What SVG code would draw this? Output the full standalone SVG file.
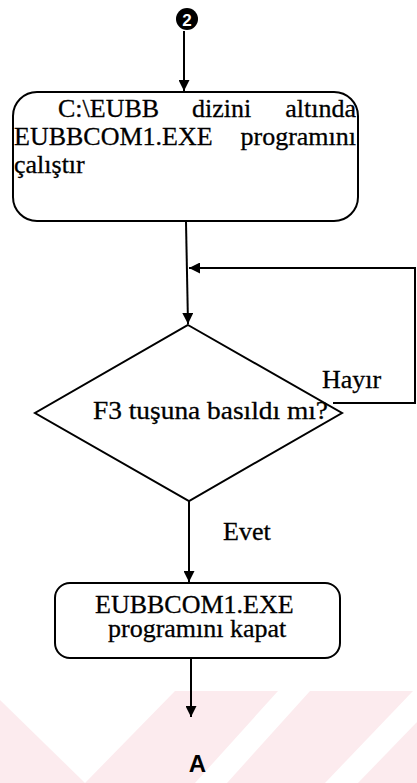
<svg xmlns="http://www.w3.org/2000/svg" width="417" height="783" viewBox="0 0 417 783">
  <style>
    .bg { fill: #ffffff; }
    .wm { fill: #fcebee; stroke: none; }
    .shape { fill: none; stroke: #000; stroke-width: 2; }
    .line { fill: none; stroke: #000; stroke-width: 2; }
    .txt { font-family: "Liberation Serif", "Times New Roman", serif; font-size: 26px; fill: #000; stroke: #000; stroke-width: 0.3; }
    .end { text-anchor: end; }
    .conn { font-family: "Liberation Sans", Arial, sans-serif; font-weight: bold; }
  </style>
  <defs>
    <marker id="arrow" viewBox="0 0 10 10" refX="10" refY="5" markerWidth="11" markerHeight="11" markerUnits="userSpaceOnUse" orient="auto">
      <path d="M0,0 L10,5 L0,10 z" fill="#000"/>
    </marker>
  </defs>

  <rect class="bg" x="0" y="0" width="417" height="783"/>

  <!-- faint background stripes along the bottom edge -->
  <g id="background-stripes">
    <polygon class="wm" points="0,700 0,783 85,783"/>
    <polygon class="wm" points="175,691 278,691 195,783 85,783"/>
    <polygon class="wm" points="310,691 413,691 325,783 227,783"/>
    <polygon class="wm" points="358,783 417,783 417,722"/>
  </g>

  <!-- connectors -->
  <g id="connectors">
    <line class="line" x1="184" y1="31" x2="184" y2="91" marker-end="url(#arrow)"/>
    <line class="line" x1="186" y1="222" x2="188" y2="324" marker-end="url(#arrow)"/>
    <polyline class="line" points="333,403 415,403 415,268 189,268" marker-end="url(#arrow)"/>
    <line class="line" x1="189" y1="501" x2="189" y2="582" marker-end="url(#arrow)"/>
    <line class="line" x1="191" y1="659" x2="191" y2="717" marker-end="url(#arrow)"/>
    <text class="txt" x="322" y="388">Hayır</text>
    <text class="txt" x="223" y="540">Evet</text>
  </g>

  <!-- off-page connector 2 -->
  <g id="connector-2">
    <circle cx="187" cy="19" r="11" fill="#000"/>
    <text class="conn" x="187" y="25.5" font-size="17" text-anchor="middle" fill="#fff">2</text>
  </g>

  <!-- start program: justified three-line label -->
  <g id="run-program">
    <rect class="shape" x="13" y="92" width="345" height="129" rx="24" ry="24"/>
    <text class="txt" x="58" y="117">C:\EUBB</text>
    <text class="txt" x="192" y="117">dizini</text>
    <text class="txt end" x="356" y="117">altında</text>
    <text class="txt" x="14" y="145">EUBBCOM1.EXE</text>
    <text class="txt end" x="356" y="145">programını</text>
    <text class="txt" x="14" y="173">çalıştır</text>
  </g>

  <!-- F3 decision -->
  <g id="f3-decision">
    <polygon class="shape" points="188,325 342,413 189,501 35,413"/>
    <text class="txt" x="93" y="419" textLength="235" lengthAdjust="spacingAndGlyphs">F3 tuşuna basıldı mı?</text>
  </g>

  <!-- close program -->
  <g id="close-program">
    <rect class="shape" x="55" y="583" width="285" height="75" rx="15" ry="15"/>
    <text class="txt" x="95" y="613">EUBBCOM1.EXE</text>
    <text class="txt" x="108" y="637">programını kapat</text>
  </g>

  <!-- off-page connector A -->
  <g id="connector-a">
    <text class="conn" x="197.5" y="772" font-size="24" text-anchor="middle" fill="#000">A</text>
  </g>
</svg>
